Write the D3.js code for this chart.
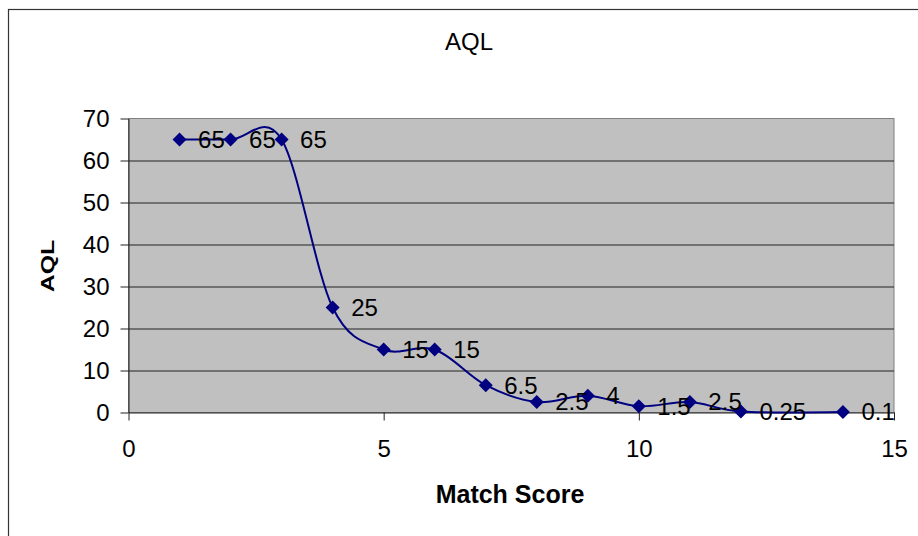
<!DOCTYPE html>
<html>
<head>
<meta charset="utf-8">
<script src="https://cdn.jsdelivr.net/npm/d3@7"></script>
<style>
    body { margin: 0; background: #fff; }
    svg { display: block; font-family: "Liberation Sans", Arial, sans-serif; }
</style>
</head>
<body>
<div id="chart"></div>
<script>
var matchScore = [1, 2, 3, 4, 5, 6, 7, 8, 9, 10, 11, 12, 14];
var aqlValues = [65, 65, 65, 25, 15, 15, 6.5, 2.5, 4, 1.5, 2.5, 0.25, 0.1];
var xTicks = [0, 5, 10, 15];
var yTicks = [0, 10, 20, 30, 40, 50, 60, 70];

var width = 918,
    height = 536;
var plot = {left: 128.5, right: 894, top: 118.5, bottom: 412.5};

var svg = d3.select("#chart").append("svg")
    .attr("width", width)
    .attr("height", height);

// chart area border (runs off the right and bottom of the window)
svg.append("rect")
    .attr("x", 8.5).attr("y", 9.5)
    .attr("width", 1000).attr("height", 1000)
    .attr("fill", "#fff")
    .attr("stroke", "#333")
    .attr("stroke-width", 1.2);

var x = d3.scaleLinear().domain([0, 15]).range([plot.left, plot.right]);
var y = d3.scaleLinear().domain([0, 70]).range([plot.bottom, plot.top]);

// plot area
svg.append("rect")
    .attr("x", plot.left).attr("y", plot.top)
    .attr("width", plot.right - plot.left)
    .attr("height", plot.bottom - plot.top)
    .attr("fill", "#c0c0c0")
    .attr("stroke", "#808080")
    .attr("stroke-width", 1);

// horizontal gridlines
svg.append("g")
    .attr("transform", "translate(" + plot.left + ",0)")
    .call(d3.axisLeft(y).tickValues(yTicks.slice(1, -1))
        .tickSize(-(plot.right - plot.left)).tickFormat(""))
    .call(function (g) {
        g.select(".domain").remove();
        g.selectAll("line").attr("stroke", "#222");
    });

// y axis
var yAxis = svg.append("g")
    .attr("transform", "translate(" + plot.left + ",0)")
    .call(d3.axisLeft(y).tickValues(yTicks).tickSize(8).tickSizeOuter(0).tickPadding(11));
yAxis.select(".domain").attr("stroke", "#222");
yAxis.selectAll("line").attr("stroke", "#222");
yAxis.selectAll("text")
    .attr("font-size", 24)
    .attr("fill", "#000")
    .attr("font-family", "Liberation Sans, Arial, sans-serif");

// x axis
var xAxis = svg.append("g")
    .attr("transform", "translate(0," + plot.bottom + ")")
    .call(d3.axisBottom(x).tickValues(xTicks).tickSize(8).tickSizeOuter(0).tickPadding(19.5));
xAxis.select(".domain").attr("stroke", "#222");
xAxis.selectAll("line").attr("stroke", "#222");
xAxis.selectAll("text")
    .attr("font-size", 24)
    .attr("fill", "#000")
    .attr("font-family", "Liberation Sans, Arial, sans-serif");

var points = matchScore.map(function (d, i) {
    return {x: d, y: aqlValues[i]};
});

// smoothed line (uniform catmull-rom, close to excel's smoothing)
var line = d3.line()
    .x(function (d) { return x(d.x); })
    .y(function (d) { return y(d.y); })
    .curve(d3.curveCatmullRom.alpha(0));

svg.append("path")
    .datum(points)
    .attr("d", line)
    .attr("fill", "none")
    .attr("stroke", "#000080")
    .attr("stroke-width", 2);

// diamond markers
svg.selectAll(".marker")
    .data(points)
    .enter().append("path")
    .attr("class", "marker")
    .attr("d", "M0,-7L7,0L0,7L-7,0Z")
    .attr("transform", function (d) {
        return "translate(" + x(d.x) + "," + y(d.y) + ")";
    })
    .attr("fill", "#000080");

// data labels
svg.selectAll(".label")
    .data(points)
    .enter().append("text")
    .attr("class", "label")
    .attr("x", function (d) { return x(d.x) + 18.5; })
    .attr("y", function (d) { return y(d.y); })
    .attr("dy", "0.35em")
    .attr("font-size", 24)
    .attr("fill", "#000")
    .text(function (d) { return d.y; });

// titles
svg.append("text")
    .attr("x", 469).attr("y", 50)
    .attr("text-anchor", "middle")
    .attr("font-size", 24)
    .text("AQL");

svg.append("text")
    .attr("x", 510).attr("y", 503)
    .attr("text-anchor", "middle")
    .attr("font-size", 25)
    .attr("font-weight", "bold")
    .text("Match Score");

svg.append("text")
    .attr("transform", "translate(53.5,266) rotate(-90) scale(1,0.7)")
    .attr("text-anchor", "middle")
    .attr("font-size", 25)
    .attr("font-weight", "bold")
    .text("AQL");
</script>
</body>
</html>
